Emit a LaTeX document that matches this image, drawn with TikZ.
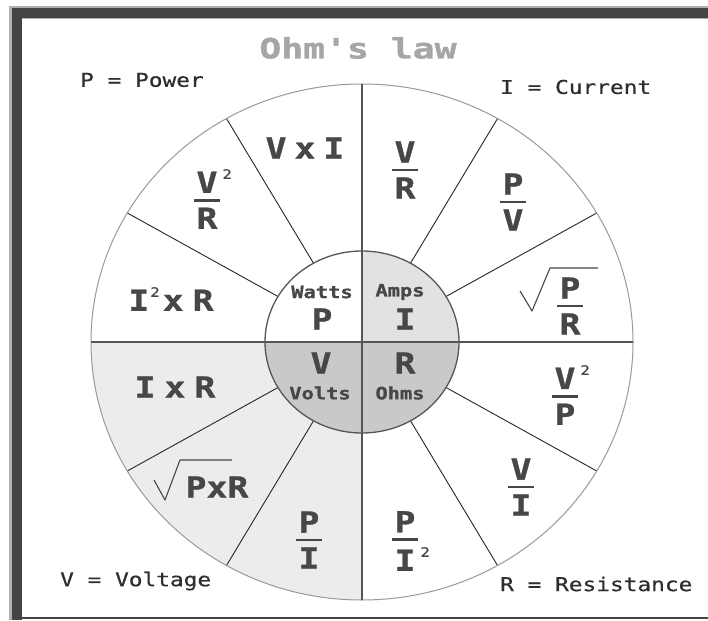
\documentclass[tikz,border=0pt]{standalone}
\usepackage{fontspec}
\setmainfont{DejaVu Sans}
\newfontfamily\legfont{DejaVu Sans Mono}[FakeStretch=1.2,FakeBold=0.6]
\newfontfamily\frmfont{DejaVu Sans Mono}[FakeStretch=1.2,FakeBold=1]
\newfontfamily\ttlfont{DejaVu Sans Mono}[FakeStretch=1.3,FakeBold=1.2]
\usepackage{xcolor}
\usetikzlibrary{calc,positioning}
\definecolor{framegray}{HTML}{444444}
\definecolor{edgegray}{HTML}{B0B0B0}
\definecolor{linegray}{HTML}{555555}
\definecolor{rimgray}{HTML}{9A9A9A}
\definecolor{litefill}{HTML}{ECECEC}
\definecolor{ampfill}{HTML}{E2E2E2}
\definecolor{darkfill}{HTML}{C9C9C9}
\definecolor{inkgray}{HTML}{474747}
\definecolor{titlegray}{HTML}{A6A6A6}
% fraction with a bar, and the small square
\newcommand{\frc}[2]{\vbox{\offinterlineskip\halign{\hfil##\hfil\cr#1\cr\noalign{\kern6pt}\rule{26pt}{2.8pt}\cr\noalign{\kern6pt}#2\cr}}}
\newcommand{\sqd}{\rlap{\kern5pt\raisebox{14pt}{\fontsize{13}{13}\selectfont\mdseries 2}}}
\newcommand{\sqi}{\kern1pt\raisebox{14pt}{\fontsize{13}{13}\selectfont\mdseries 2}\kern3pt}
\tikzset{
  frm/.style={text=inkgray, inner sep=0pt, font=\frmfont\fontsize{29}{31}\selectfont\bfseries},
  inr/.style={text=inkgray, inner sep=0pt, font=\frmfont\fontsize{17}{18}\selectfont\bfseries},
  leg/.style={text=black!82, inner sep=0pt, anchor=west, font=\legfont\fontsize{19}{22}\selectfont},
  rad/.style={draw=inkgray, line width=1.1pt, line join=round},
  spoke/.style={draw=black!85, line width=0.9pt},
  cross/.style={draw=linegray, line width=1.6pt}
}

\begin{document}
\begin{tikzpicture}[x=1pt,y=-1pt]
        \def\cx{362}
        \def\cy{342}
        \def\rx{271}
        \def\ry{258}
        \def\irx{97}
        \def\iry{91}
        \useasboundingbox (0,0) rectangle (708,620);
        \fill[white] (0,0) rectangle (708,620);
        % Draw the frame
        \fill[edgegray] (9,6) rectangle (708,8);
        \fill[edgegray] (9,6) rectangle (12,620);
        \fill[framegray] (12,8) rectangle (708,18);
        \fill[framegray] (12,8) rectangle (22,620);
        \fill[edgegray] (22,18) rectangle (708,19);
        \fill[framegray] (12,616.5) rectangle (708,619);
        \coordinate (ctr) at (\cx,\cy);
        % Draw the shaded parts
        \fill[litefill] (ctr) -- ++(180:\rx pt and \ry pt) arc[start angle=180, end angle=90, x radius=\rx, y radius=\ry] -- cycle;
        \fill[white] (ctr) ellipse[x radius=\irx, y radius=\iry];
        \fill[ampfill] (ctr) -- ++(0:\irx pt and \iry pt) arc[start angle=360, end angle=270, x radius=\irx, y radius=\iry] -- cycle;
        \fill[darkfill] (ctr) -- ++(0:\irx pt and \iry pt) arc[start angle=0, end angle=180, x radius=\irx, y radius=\iry] -- cycle;
        % Draw the spokes
        \foreach \ang in {30,60,120,150,210,240,300,330}
          \draw[spoke] ($(ctr)+(\ang:\irx pt and \iry pt)$) -- ($(ctr)+(\ang:\rx pt and \ry pt)$);
        % circles
        \draw[rimgray, line width=1pt] (ctr) ellipse[x radius=\rx, y radius=\ry];
        \draw[linegray, line width=1.3pt] (ctr) ellipse[x radius=\irx, y radius=\iry];
        %axis
        \draw[cross] (\cx,\cy-\ry) -- (\cx,\cy+\ry);
        \draw[cross] (\cx-\rx,\cy) -- (\cx+\rx,\cy);
        % Title and legend
        \node[text=titlegray, inner sep=0pt, font=\ttlfont\fontsize{28}{30}\selectfont\bfseries] (title) at (358,48) {Ohm's law};
        \node[leg] (pwr) at (80,80) {P = Power};
        \node[leg] (cur) at (500,87) {I = Current};
        \node[leg] (vlt) at (60,581) {V = Voltage};
        \node[leg] (res) at (500,584) {R = Resistance};
        % centre
        \node[inr] (watts) at (322,292) {Watts};
        \node[frm] (p) at (322,319) {P};
        \node[inr] (amps) at (400,292) {Amps};
        \node[frm] (i) at (405,319) {I};
        \node[frm] (v) at (321,363) {V};
        \node[inr] (volts) at (320,393) {Volts};
        \node[frm] (r) at (405,363) {R};
        \node[inr] (ohms) at (400,393) {Ohms};
        % P formulas
        \node[frm] (vxi) at (305,148) {V\hspace{8pt}x\hspace{8pt}I};
        \node[frm] (vsr) at (207,199) {\frc{V\sqd}{R}};
        \node[frm] (isr) at (171,299) {I\sqi x\hspace{9pt}R};
        % I formulas
        \node[frm] (vr) at (405,170) {\frc{V}{R}};
        \node[frm] (pv) at (513,202) {\frc{P}{V}};
        \node[frm] (pr) at (570,306) {\frc{P}{R}};
        \draw[rad,shift={(pr.center)}] (-50,-15) -- (-38,5) -- (-20,-38) -- (28,-38);
        % R formulas
        \node[frm] (vsp) at (565,395) {\frc{V\sqd}{P}};
        \node[frm] (vi) at (521,487) {\frc{V}{I}};
        \node[frm] (pis) at (405,541) {\frc{P}{I\sqd}};
        % V formulas
        \node[frm] (ixr) at (175,387) {I\hspace{9pt}x\hspace{9pt}R};
        \node[frm] (pxr) at (217,487) {PxR};
        \draw[rad,shift={(pxr.center)}] (-63,-7) -- (-52,13) -- (-37,-27) -- (15,-27);
        \node[frm] (pi) at (309,540) {\frc{P}{I}};
\end{tikzpicture}
\end{document}
